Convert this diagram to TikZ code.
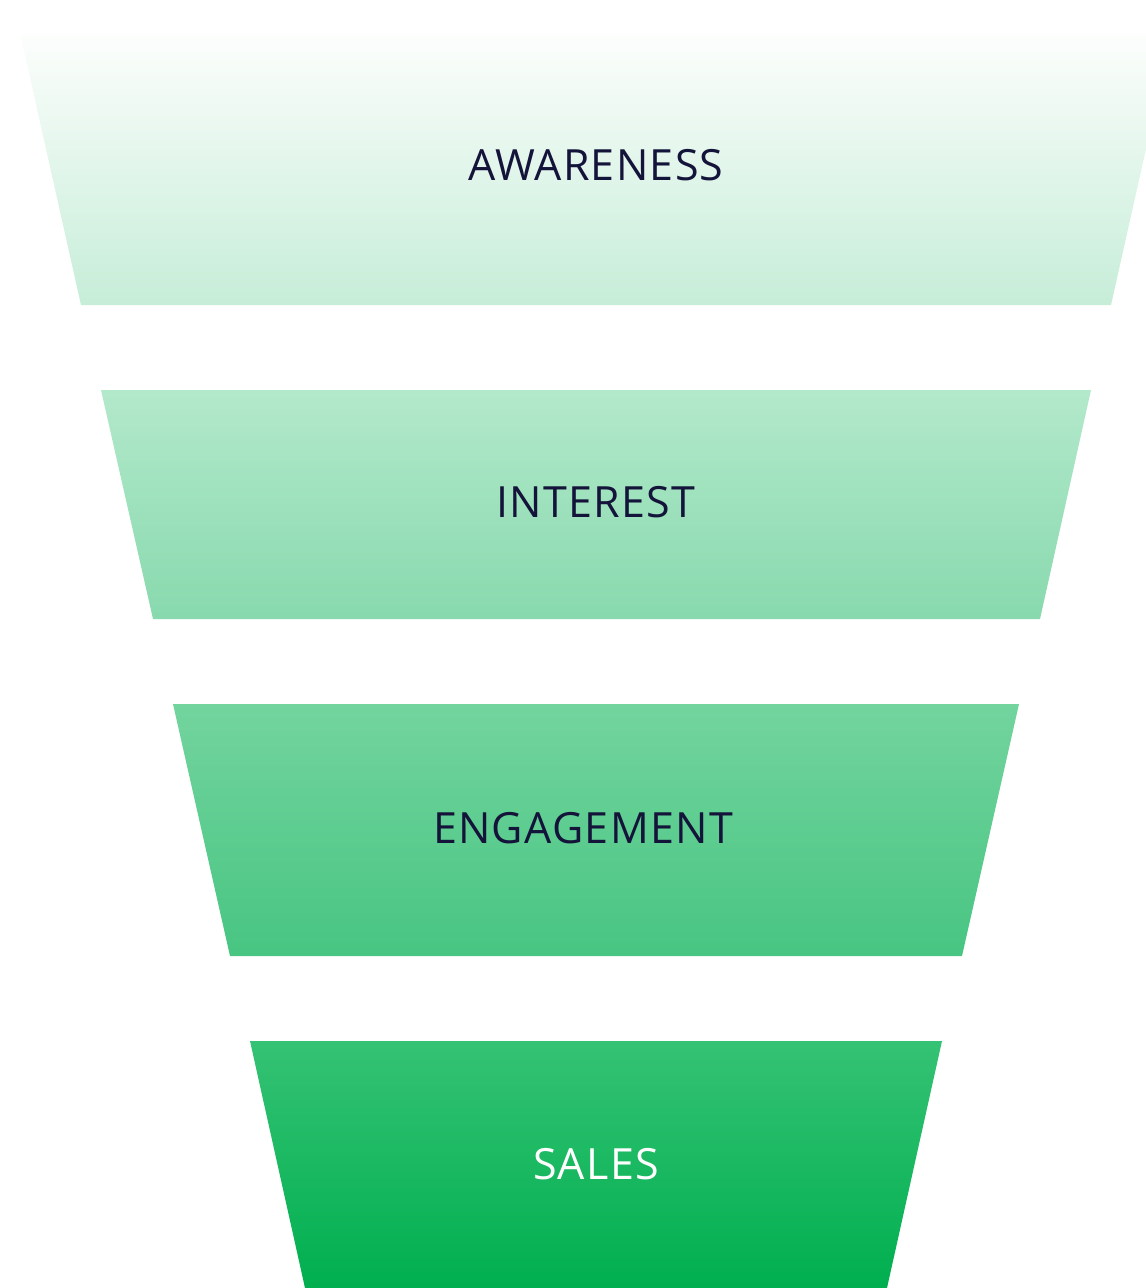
\documentclass[tikz,border=0pt]{standalone}
\usepackage{fontspec}
\setsansfont{Open Sans}[LetterSpace=3]
\usepackage{xcolor}

\definecolor{ink}{HTML}{14143A}
\definecolor{awaretop}{HTML}{FDFEFD}
\definecolor{awarebot}{HTML}{C6EDD8}
\definecolor{inttop}{HTML}{B3E9CB}
\definecolor{intbot}{HTML}{88D9AE}
\definecolor{engtop}{HTML}{73D49E}
\definecolor{engbot}{HTML}{48C582}
\definecolor{saletop}{HTML}{35C274}
\definecolor{salebot}{HTML}{00AF4F}

\begin{document}
\begin{tikzpicture}[x=1pt, y=-1pt,
      stage/.style={font=\sffamily\fontsize{43}{50}\selectfont, text=ink,
                    inner sep=0pt, anchor=center},
      laststage/.style={stage, text=white}]

    \useasboundingbox (0,0) rectangle (1146,1288);
    \clip (0,0) rectangle (1146,1288);

    % funnel layers, top to bottom
    \shade[top color=awaretop, bottom color=awarebot]
      (20,33) -- (1172,33) -- (1111,305) -- (81,305) -- cycle;
    \shade[top color=inttop, bottom color=intbot]
      (101,390) -- (1091,390) -- (1040,619) -- (153,619) -- cycle;
    \shade[top color=engtop, bottom color=engbot]
      (173,704) -- (1019,704) -- (962,956) -- (230,956) -- cycle;
    \shade[top color=saletop, bottom color=salebot]
      (250,1041) -- (942,1041) -- (887,1288) -- (305,1288) -- cycle;

    \node[stage] (aware) at (596,165) {AWARENESS};
    \node[stage] (interest) at (596,502) {INTEREST};
    \node[stage] (engage) at (583,828) {ENGAGEMENT};
    \node[laststage] (sales) at (596,1164) {SALES};
  \end{tikzpicture}
\end{document}
